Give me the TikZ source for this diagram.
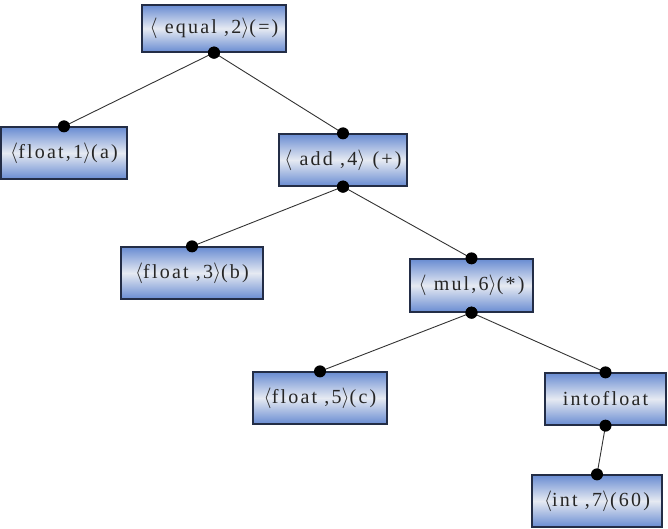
\documentclass[tikz,border=0pt]{standalone}
\usepackage{fontspec}
\setmainfont{Liberation Serif}
\newfontfamily\boxfont[LetterSpace=11]{Liberation Serif}
\usetikzlibrary{positioning, calc}
\definecolor{boxblue}{RGB}{105,140,210}
\definecolor{boxlight}{RGB}{230,234,242}
\definecolor{boxedge}{RGB}{35,45,70}
\tikzset{
  tnode/.style={draw=boxedge, line width=1.3pt, minimum height=52pt, inner sep=0pt,
    top color=boxblue, bottom color=boxblue, middle color=boxlight,
    font=\boxfont\fontsize{20}{22}\selectfont, text=black!85},
  edge/.style={draw=black!80, line width=0.9pt},
  dot/.style={fill=black}
}
\newcommand{\la}{$\langle$}
\newcommand{\ra}{$\rangle$}

\begin{document}
\begin{tikzpicture}[x=1pt, y=-1pt]
\useasboundingbox (0,0) rectangle (668,529);
\node[tnode, minimum width=144pt, minimum height=47pt] (eq) at (214,28.5) {\la{} equal ,2\ra(=)};
\node[tnode, minimum width=126pt] (f1) at (64,153) {\la float,1\ra(a)};
\node[tnode, minimum width=128pt] (add) at (343,160) {\la{} add ,4\ra{} (+)};
\node[tnode, minimum width=142pt] (f3) at (192,273) {\la float ,3\ra(b)};
\node[tnode, minimum width=123pt, minimum height=53pt] (mul) at (471.5,285.5) {\la{} mul,6\ra(*)};
\node[tnode, minimum width=134pt] (f5) at (320,398) {\la float ,5\ra(c)};
\node[tnode, minimum width=121pt] (itf) at (605.5,399) {intofloat};
\node[tnode, minimum width=130pt] (i7) at (597,501) {\la int ,7\ra(60)};
% edges of the tree
\foreach \p/\c in {eq/f1, eq/add, add/f3, add/mul, mul/f5, mul/itf, itf/i7}{
  \draw[edge] (\p.south) -- (\c.north);
  \fill[dot] (\p.south) circle (6pt);
  \fill[dot] (\c.north) circle (6pt);
}
\end{tikzpicture}
\end{document}
